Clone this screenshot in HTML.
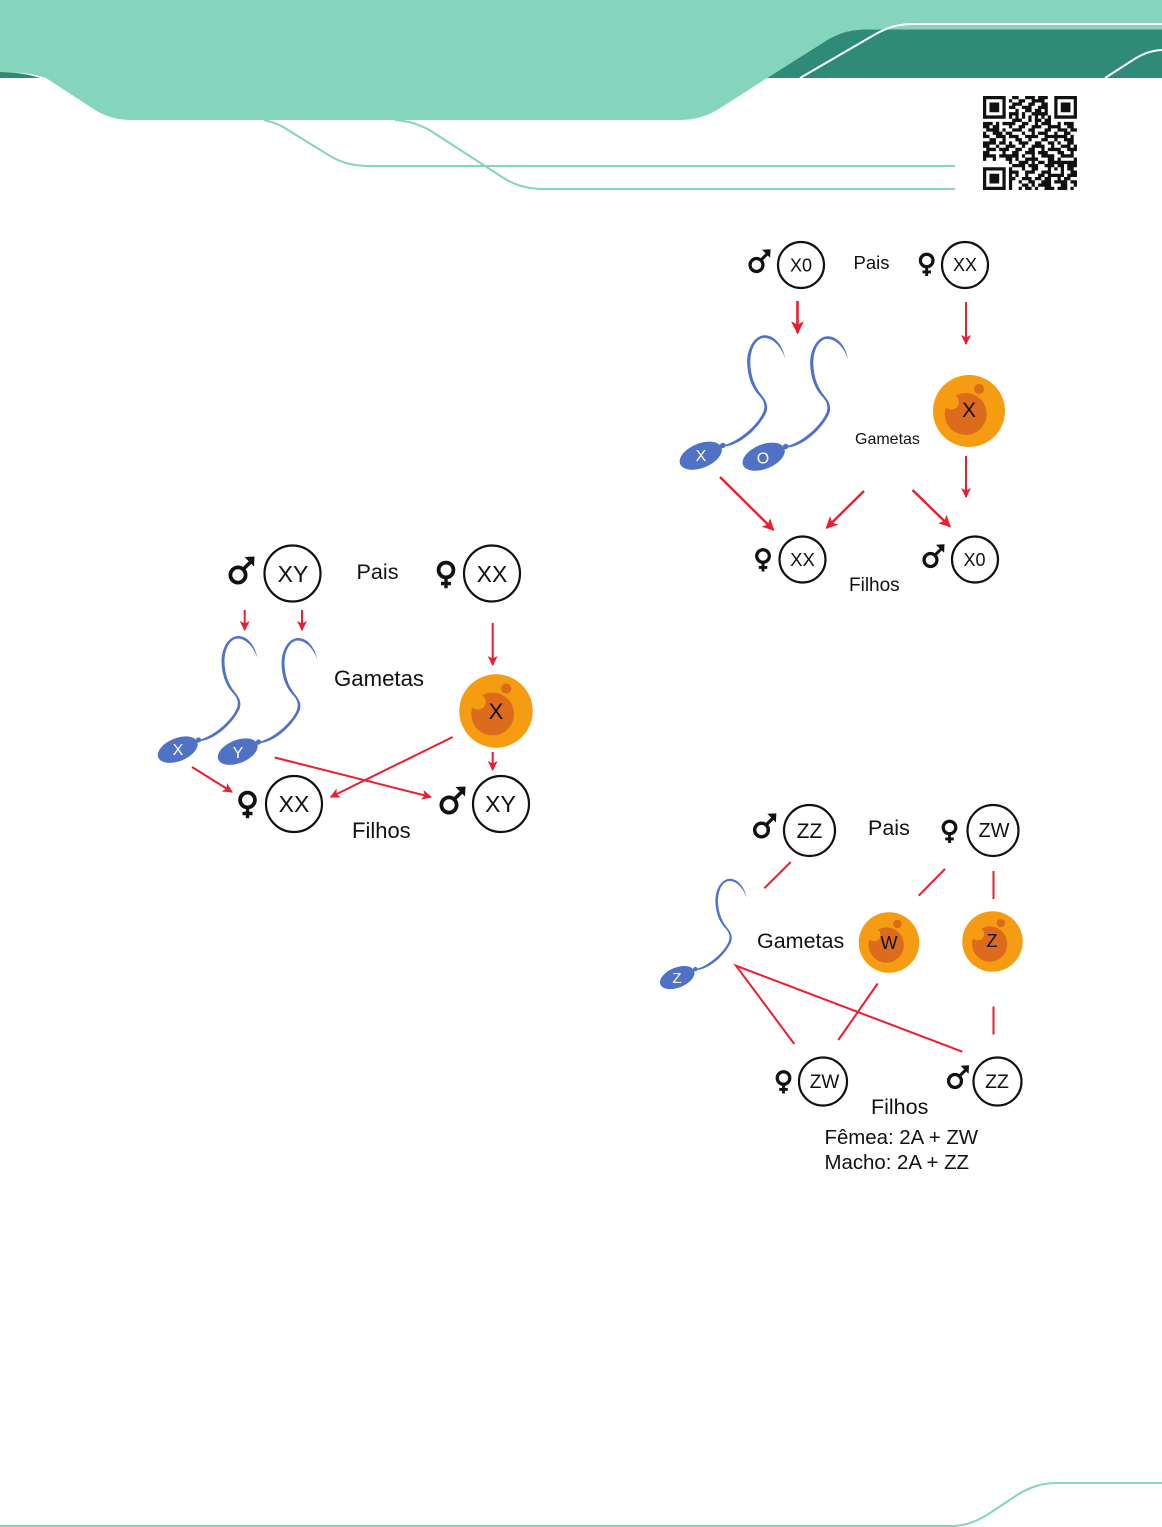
<!DOCTYPE html>
<html lang="pt">
<head>
<meta charset="utf-8">
<title>Determinação do sexo</title>
<style>
html,body{margin:0;padding:0;background:#fff;width:1162px;height:1527px;overflow:hidden}
svg{display:block}
text{font-family:"Liberation Sans",Arial,sans-serif;fill:#111}
.c{fill:#fff;stroke:#111;stroke-width:2.2}
.r{stroke:#ed1c2e;fill:none;stroke-width:2}
.m{text-anchor:middle}
</style>
</head>
<body>
<svg width="1162" height="1527" viewBox="0 0 1162 1527" xmlns="http://www.w3.org/2000/svg">
<defs>
<marker id="a" viewBox="0 0 10 10" refX="9" refY="5" markerWidth="5" markerHeight="5" orient="auto"><path d="M0,0 L10,5 L0,10 L2.5,5 Z" fill="#ed1c2e"/></marker>
<g id="male"><circle r="7.6" fill="none" stroke="#111" stroke-width="3.8"/><path d="M5,-5.5 L13,-13.5" stroke="#111" stroke-width="3.6" fill="none"/><path d="M6.5,-18 L16.5,-18.5 L16,-8.5 Z" fill="#111"/></g>
<g id="female"><circle r="7.4" fill="none" stroke="#111" stroke-width="3.8"/><path d="M0,8 V18.3 M-5,13.5 H5" stroke="#111" stroke-width="3.4" fill="none"/></g>
<g id="sperm"><path d="M22,-9.5 C36,-13 53,-28 58.5,-40 C61.5,-47 59,-52 54,-57 C47,-65 44,-75 43.5,-87 C43.5,-103 52,-113 60,-113 C70,-113 77,-103 79.5,-91 C76,-101 69,-110 60,-110.5 C53,-110.5 46.5,-102 46.5,-87 C47,-75 50,-66 56,-58 C61,-52 64,-47 61.5,-40 C55,-26 38,-10 23,-8 Z" fill="#4f72c4"/><ellipse cx="-0.5" cy="0.5" rx="21" ry="11.5" transform="rotate(-22)" fill="#4f72c4"/><circle cx="20.5" cy="-9" r="2.6" fill="#4f72c4"/></g>
<g id="egg"><circle r="36" fill="#f59c12"/><circle cx="-3.3" cy="3" r="21" fill="#dd6b1d"/><circle cx="-17.7" cy="-9" r="7.6" fill="#f59c12"/><circle cx="10" cy="-22" r="5" fill="#dd6b1d"/></g>
</defs>

<!-- header -->
<path d="M0,72 C14,72 28,74 40,78 L0,78 Z" fill="#2f8b78"/>
<path d="M767,78 L824,42 C838,33 850,29.5 866,29.5 H1162 V78 Z" fill="#2f8b78"/>
<path d="M0,0 H1162 V29.5 H866 C850,29.5 838,33 824,42 L767,78 L722,107 C708,116 695,120 680,120 H132 C116,120 104,116 92,108 L46,78 C36,74 18,72 0,72 Z" fill="#84d5bc"/>
<path d="M800,78 L874,35 C890,26 900,24 915,24 H1162" fill="none" stroke="#fff" stroke-width="2"/>
<path d="M1105,78 L1136,58 C1145,53 1152,50.5 1162,50" fill="none" stroke="#fff" stroke-width="2"/>
<path d="M264,120 C273,122 281,125 288,130 L330,156 C342,163 354,166 370,166 H955" fill="none" stroke="#84d5bc" stroke-width="2"/>
<path d="M395,120 C410,121 421,125 431,131 L502,177 C514,185 528,189 544,189 H955" fill="none" stroke="#84d5bc" stroke-width="2"/>

<!-- QR -->
<g transform="translate(983 96) scale(3.24)">
<path fill="none" stroke="#111" stroke-width="1.02" d="
M0 .5h7M9 .5h2M13 .5h3M17 .5h3M22 .5h7
M0 1.5h1M6 1.5h1M8 1.5h1M11 1.5h2M15 1.5h4M22 1.5h1M28 1.5h1
M0 2.5h1M2 2.5h3M6 2.5h1M9 2.5h3M14 2.5h2M18 2.5h2M22 2.5h1M24 2.5h3M28 2.5h1
M0 3.5h1M2 3.5h3M6 3.5h1M8 3.5h2M12 3.5h3M17 3.5h3M22 3.5h1M24 3.5h3M28 3.5h1
M0 4.5h1M2 4.5h3M6 4.5h1M10 4.5h1M13 4.5h2M16 4.5h2M19 4.5h1M22 4.5h1M24 4.5h3M28 4.5h1
M0 5.5h1M6 5.5h1M8 5.5h3M12 5.5h1M15 5.5h5M22 5.5h1M28 5.5h1
M0 6.5h7M8 6.5h1M10 6.5h1M12 6.5h1M14 6.5h1M16 6.5h1M18 6.5h1M20 6.5h1M22 6.5h7
M9 7.5h3M14 7.5h1M16 7.5h2M19 7.5h2
M0 8.5h3M4 8.5h1M6 8.5h4M12 8.5h2M16 8.5h1M18 8.5h3M23 8.5h1M25 8.5h3
M0 9.5h2M3 9.5h2M8 9.5h1M11 9.5h2M15 9.5h3M20 9.5h4M26 9.5h2
M1 10.5h4M6 10.5h1M9 10.5h3M14 10.5h2M19 10.5h2M23 10.5h3M27 10.5h2
M0 11.5h1M3 11.5h3M7 11.5h2M12 11.5h1M15 11.5h1M17 11.5h3M22 11.5h1M25 11.5h2
M0 12.5h2M4 12.5h3M8 12.5h3M13 12.5h4M19 12.5h7M27 12.5h1
M2 13.5h2M6 13.5h1M10 13.5h2M14 13.5h1M18 13.5h2M22 13.5h1M25 13.5h3
M0 14.5h4M5 14.5h2M8 14.5h1M11 14.5h3M16 14.5h2M20 14.5h2M23 14.5h1M26 14.5h2
M0 15.5h2M4 15.5h1M7 15.5h3M12 15.5h1M15 15.5h4M21 15.5h1M24 15.5h3M28 15.5h1
M1 16.5h3M5 16.5h3M10 16.5h2M14 16.5h2M18 16.5h1M20 16.5h4M26 16.5h3
M0 17.5h2M6 17.5h1M9 17.5h2M13 17.5h3M17 17.5h3M23 17.5h2M27 17.5h1
M0 18.5h4M5 18.5h6M12 18.5h1M15 18.5h1M18 18.5h4M24 18.5h4
M0 19.5h1M3 19.5h1M7 19.5h2M10 19.5h1M13 19.5h4M20 19.5h2M23 19.5h1M28 19.5h1
M8 20.5h1M11 20.5h3M15 20.5h1M17 20.5h2M20 20.5h9
M9 21.5h4M14 21.5h3M19 21.5h3M23 21.5h2M26 21.5h3
M0 22.5h7M8 22.5h1M12 22.5h1M15 22.5h2M20 22.5h1M22 22.5h1M24 22.5h1M26 22.5h2
M0 23.5h1M6 23.5h1M8 23.5h3M13 23.5h3M18 23.5h3M24 23.5h1M27 23.5h2
M0 24.5h1M2 24.5h3M6 24.5h1M8 24.5h1M10 24.5h1M13 24.5h1M17 24.5h2M20 24.5h5M26 24.5h3
M0 25.5h1M2 25.5h3M6 25.5h1M8 25.5h2M12 25.5h3M16 25.5h2M19 25.5h2M23 25.5h1M25 25.5h2
M0 26.5h1M2 26.5h3M6 26.5h1M8 26.5h1M11 26.5h1M14 26.5h2M18 26.5h3M22 26.5h4M27 26.5h2
M0 27.5h1M6 27.5h1M8 27.5h1M12 27.5h2M15 27.5h1M17 27.5h4M24 27.5h2M28 27.5h1
M0 28.5h7M8 28.5h1M11 28.5h1M13 28.5h2M16 28.5h1M19 28.5h3M23 28.5h3M27 28.5h1"/>
</g>

<!-- footer -->
<path d="M0,1526 H952 C965,1526 977,1521 987,1515 L1017,1495 C1030,1487 1042,1483 1057,1483 H1162" fill="none" stroke="#84d5bc" stroke-width="2"/>

<!-- Diagram 1: XY -->
<use href="#male" x="238" y="575"/>
<use href="#female" x="446" y="570"/>
<circle class="c" cx="292.5" cy="573.5" r="28"/>
<circle class="c" cx="492" cy="573.5" r="28"/>
<text class="m" x="293" y="582" font-size="23">XY</text>
<text class="m" x="492" y="582" font-size="23">XX</text>
<text x="356.5" y="579" font-size="21.6">Pais</text>
<text x="334" y="686" font-size="22.2">Gametas</text>
<text x="352" y="838" font-size="22">Filhos</text>
<use href="#sperm" x="178" y="749"/>
<use href="#sperm" x="238" y="751"/>
<text class="m" x="178" y="755" font-size="16" style="fill:#fff">X</text>
<text class="m" x="238" y="758" font-size="16" style="fill:#fff">Y</text>
<use href="#egg" transform="translate(496 711) scale(1.02)"/>
<text class="m" x="496" y="719" font-size="22">X</text>
<path class="r" marker-end="url(#a)" d="M244.7,610 V630"/>
<path class="r" marker-end="url(#a)" d="M302,610 V630"/>
<path class="r" marker-end="url(#a)" d="M492.7,623 V665"/>
<path class="r" marker-end="url(#a)" d="M452.7,737 L330.7,797"/>
<path class="r" marker-end="url(#a)" d="M274.7,757.5 L431,797"/>
<path class="r" marker-end="url(#a)" d="M492.7,752 V770"/>
<path class="r" marker-end="url(#a)" d="M192,767 L232,792"/>
<use href="#female" x="247.5" y="800"/>
<use href="#male" x="449" y="805"/>
<circle class="c" cx="294" cy="804" r="28"/>
<circle class="c" cx="501" cy="804" r="28"/>
<text class="m" x="294" y="812" font-size="23">XX</text>
<text class="m" x="500.5" y="812" font-size="23">XY</text>

<!-- Diagram 2: X0 -->
<use href="#male" transform="translate(756.5 265) scale(.85)"/>
<use href="#female" transform="translate(926.7 260.5) scale(.85)"/>
<circle class="c" cx="801" cy="265" r="23"/>
<circle class="c" cx="965" cy="265" r="23"/>
<text class="m" x="801" y="271.5" font-size="18">X0</text>
<text class="m" x="965" y="271" font-size="18">XX</text>
<text x="853.5" y="269" font-size="18.5">Pais</text>
<text x="855" y="444" font-size="16">Gametas</text>
<text x="849" y="591" font-size="19">Filhos</text>
<use href="#sperm" transform="translate(701 455) scale(1.06)"/>
<use href="#sperm" transform="translate(764 456) scale(1.06)"/>
<text class="m" x="701" y="461" font-size="16" style="fill:#fff">X</text>
<text class="m" x="763" y="463.5" font-size="16" style="fill:#fff">O</text>
<use href="#egg" x="969" y="411"/>
<text class="m" x="969" y="417" font-size="21">X</text>
<path class="r" style="stroke-width:2.6" marker-end="url(#a)" d="M797.5,301 V333"/>
<path class="r" marker-end="url(#a)" d="M966,302 V344"/>
<path class="r" marker-end="url(#a)" d="M966,456 V497"/>
<path class="r" style="stroke-width:2.4" marker-end="url(#a)" d="M720,477 L773.5,530"/>
<path class="r" style="stroke-width:2.4" marker-end="url(#a)" d="M864,491 L826.5,528"/>
<path class="r" style="stroke-width:2.4" marker-end="url(#a)" d="M912.5,490 L950,526.5"/>
<use href="#female" transform="translate(763 556) scale(.85)"/>
<use href="#male" transform="translate(930.5 560) scale(.85)"/>
<circle class="c" cx="802.5" cy="559.5" r="23"/>
<circle class="c" cx="975" cy="559.5" r="23"/>
<text class="m" x="802.5" y="566" font-size="18.5">XX</text>
<text class="m" x="974.5" y="566" font-size="18">X0</text>

<!-- Diagram 3: ZW -->
<use href="#male" transform="translate(761.5 830) scale(.9)"/>
<use href="#female" transform="translate(949.5 827.5) scale(.85)"/>
<circle class="c" cx="809.5" cy="830.5" r="25.5"/>
<circle class="c" cx="993" cy="830.5" r="25.5"/>
<text class="m" x="809.5" y="838" font-size="21">ZZ</text>
<text class="m" x="994" y="837" font-size="20">ZW</text>
<text x="868" y="835" font-size="21.5">Pais</text>
<text x="757" y="948" font-size="21.5">Gametas</text>
<text x="871" y="1114" font-size="21.5">Filhos</text>
<text x="824.5" y="1144" font-size="20.4">Fêmea: 2A + ZW</text>
<text x="824.5" y="1169" font-size="20.4">Macho: 2A + ZZ</text>
<use href="#sperm" transform="translate(677.5 977) scale(.87)"/>
<text class="m" x="677" y="983" font-size="15" style="fill:#fff">Z</text>
<use href="#egg" transform="translate(889 942.5) scale(.84)"/>
<use href="#egg" transform="translate(992.5 941.5) scale(.84)"/>
<text class="m" x="889" y="949" font-size="18">W</text>
<text class="m" x="992" y="947" font-size="18">Z</text>
<path class="r" d="M790.7,862 L764.3,888.3 M945,869 L918.7,895.7 M993.5,871 V899 M993.5,1006.5 V1034.5 M794.3,1044 L736,965.7 L962.3,1051.7 M877.7,983.5 L838.3,1040"/>
<use href="#female" transform="translate(783.5 1078) scale(.85)"/>
<use href="#male" transform="translate(955 1081) scale(.85)"/>
<circle class="c" cx="823" cy="1081.5" r="24"/>
<circle class="c" cx="997.5" cy="1081.5" r="24"/>
<text class="m" x="824.5" y="1088" font-size="19">ZW</text>
<text class="m" x="997" y="1088" font-size="19.5">ZZ</text>
</svg>
</body>
</html>
